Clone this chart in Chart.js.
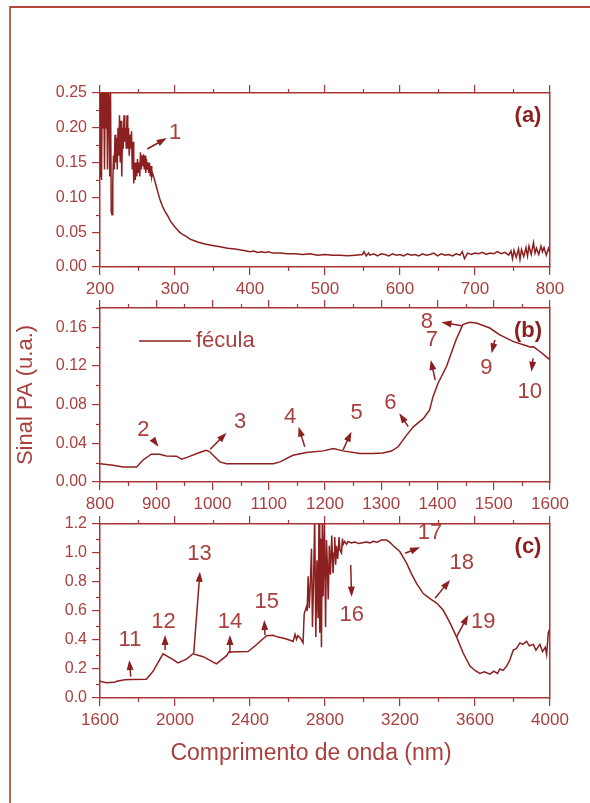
<!DOCTYPE html>
<html>
<head>
<meta charset="utf-8">
<script src="https://cdn.jsdelivr.net/npm/chart.js@4.4.1/dist/chart.umd.min.js"></script>
<style>
  html, body { margin: 0; padding: 0; background: #fff; }
  #page { position: relative; width: 590px; height: 803px; overflow: hidden; background: #fff; }
  #page canvas { position: absolute; left: 0; top: 0; }
  #frame { position: absolute; left: 9px; top: 6px; right: 0; bottom: 0;
           border-left: 2px solid #b86a45; border-top: 2px solid #b5473c; }
</style>
</head>
<body>
<div id="page">
  <div id="frame"></div>
  <canvas id="chartA" width="590" height="803"></canvas>
  <canvas id="chartB" width="590" height="803"></canvas>
  <canvas id="chartC" width="590" height="803"></canvas>
</div>
<script>
// ---- panel (a): 200-800 nm ----
const aWave = [
  200,201,202,203,204,205,206,207,208,209,
  210,211,212,213,214,215,216,217,218,219,
  220,221,222,223,224,225,226,227,228,229,
  230,231,232,233,234,235,236,237,238,239,
  240,241,242,243,244,245,246,247,248,249,
  250,251,252,253,254,255,256,257,258,259,
  260,261,262,263,264,265,266,267,268,269,
  270,272,274,276,278,280,283,286,290,294,
  298,302,306,310,315,320,325,330,340,350,
  360,370,380,390,395,400,405,410,415,420,
  425,430,440,450,460,470,480,490,500,510,
  520,530,540,550,552,555,558,560,565,570,
  575,580,585,590,595,600,605,610,615,620,
  625,630,635,640,645,650,655,660,665,670,
  675,680,683,686,690,695,700,705,710,715,
  720,725,730,735,740,745,748,750,752,755,
  758,760,762,765,768,770,772,775,778,780,
  782,785,788,790,792,795,798,800
];
const aSignal = [
  0.13,0.26,0.125,0.27,0.2,0.26,0.14,0.27,0.2,0.26,
  0.14,0.26,0.24,0.13,0.26,0.08,0.075,0.12,0.16,0.14,
  0.19,0.15,0.185,0.14,0.2,0.16,0.218,0.15,0.21,0.13,
  0.2,0.17,0.218,0.18,0.2,0.17,0.218,0.17,0.2,0.16,
  0.19,0.17,0.195,0.14,0.18,0.12,0.15,0.125,0.15,0.13,
  0.155,0.135,0.15,0.13,0.165,0.14,0.16,0.145,0.162,0.14,
  0.16,0.135,0.155,0.14,0.15,0.135,0.15,0.13,0.145,0.13,
  0.135,0.128,0.12,0.112,0.104,0.097,0.088,0.081,0.074,0.066,
  0.06,0.055,0.05,0.047,0.044,0.04,0.038,0.036,0.033,0.031,
  0.029,0.027,0.026,0.024,0.023,0.022,0.023,0.021,0.022,0.021,
  0.022,0.02,0.02,0.019,0.019,0.018,0.019,0.017,0.018,0.017,
  0.017,0.016,0.017,0.018,0.022,0.016,0.02,0.017,0.019,0.016,
  0.019,0.018,0.016,0.019,0.017,0.018,0.016,0.019,0.017,0.018,
  0.016,0.019,0.017,0.018,0.02,0.016,0.019,0.017,0.018,0.016,
  0.019,0.017,0.022,0.012,0.02,0.018,0.02,0.019,0.021,0.018,
  0.02,0.019,0.022,0.019,0.021,0.017,0.023,0.012,0.024,0.014,
  0.026,0.011,0.025,0.015,0.028,0.016,0.03,0.018,0.035,0.02,
  0.027,0.018,0.03,0.022,0.028,0.017,0.027,0.02
];
const aXTicks = [200, 300, 400, 500, 600, 700, 800];
const aYTicks = [0, 0.05, 0.10, 0.15, 0.20, 0.25];

// ---- panel (b): 800-1600 nm ----
const bWave = [
  800,823,841,865,876,891,906,918,936,945,
  957,977,989,995,1013,1025,1060,1108,1120,1143,
  1167,1197,1215,1232,1262,1286,1303,1318,1330,1345,
  1357,1375,1386,1392,1401,1416,1433,1445,1457,1469,
  1493,1510,1534,1558,1566,1570,1582,1600
];
const bSignal = [
  0.019,0.0173,0.0156,0.0156,0.0225,0.0287,0.0287,0.027,0.0267,0.0236,
  0.026,0.0305,0.0329,0.0312,0.0208,0.019,0.019,0.019,0.0208,0.0277,
  0.0305,0.0322,0.0346,0.0322,0.0294,0.0294,0.0301,0.032,0.0364,0.0485,
  0.0571,0.0658,0.0745,0.0883,0.1022,0.1195,0.1472,0.1628,0.1652,0.1645,
  0.1593,0.1524,0.1455,0.141,0.1395,0.14,0.135,0.1264
];
const bXTicks = [800, 900, 1000, 1100, 1200, 1300, 1400, 1500, 1600];
const bYTicks = [0, 0.04, 0.08, 0.12, 0.16];

// ---- panel (c): 1600-4000 nm ----
const cWave = [
  1600,1634,1678,1690,1732,1760,1847,1883,1936,1990,
  2016,2061,2096,2150,2221,2274,2288,2390,2434,2488,
  2523,2550,2585,2610,2630,2640,2648,2655,2670,2683,
  2689,2701,2705,2710,2716,2722,2728,2733,2739,2745,
  2751,2757,2763,2768,2772,2777,2781,2786,2790,2797,
  2803,2808,2813,2817,2823,2829,2836,2843,2848,2852,
  2857,2861,2868,2875,2880,2888,2893,2897,2905,2915,
  2923,2940,2960,2980,3000,3020,3040,3057,3080,3100,
  3128,3145,3164,3199,3235,3260,3288,3324,3360,3395,
  3431,3466,3502,3537,3573,3600,3626,3650,3680,3700,
  3720,3733,3750,3769,3785,3804,3820,3840,3855,3875,
  3890,3911,3925,3946,3960,3975,3982,3991,4000
];
const cSignal = [
  0.115,0.105,0.108,0.115,0.126,0.128,0.13,0.184,0.305,0.264,
  0.242,0.268,0.305,0.285,0.235,0.29,0.318,0.32,0.367,0.43,
  0.432,0.42,0.41,0.4,0.39,0.44,0.405,0.43,0.41,0.38,
  0.58,0.63,0.6,0.84,0.62,0.8,1.03,0.49,0.8,1.25,
  0.42,0.95,0.55,1.25,0.45,1.1,0.35,1.25,0.7,1.22,
  0.49,1.09,0.9,0.68,1.05,0.85,1.12,0.86,1.0,1.11,
  0.92,1.05,0.96,1.11,1.02,1.0,1.1,1.06,1.08,1.06,
  1.08,1.07,1.075,1.065,1.07,1.075,1.07,1.08,1.075,1.09,
  1.09,1.075,1.05,1.01,0.93,0.86,0.79,0.72,0.685,0.655,
  0.605,0.52,0.42,0.31,0.22,0.19,0.17,0.18,0.165,0.185,
  0.17,0.2,0.19,0.22,0.26,0.33,0.34,0.38,0.37,0.39,
  0.36,0.37,0.33,0.37,0.32,0.35,0.3,0.45,0.48
];
const cXTicks = [1600, 2000, 2400, 2800, 3200, 3600, 4000];
const cYTicks = [0, 0.2, 0.4, 0.6, 0.8, 1.0, 1.2];

// numbered band markers: label position and arrow (tail -> head), in data units
const aMarks = [
  { text: '1', x: 300, y: 0.1925, from: [263, 0.1695], to: [289, 0.1853] }
];
const bMarks = [
  { text: '2', x: 877, y: 0.0538, from: [895, 0.0434], to: [904, 0.0365] },
  { text: '3', x: 1049, y: 0.0624, from: [996, 0.0338], to: [1025, 0.051] },
  { text: '4', x: 1138, y: 0.0676, from: [1164, 0.0365], to: [1153, 0.0572] },
  { text: '5', x: 1256, y: 0.0711, from: [1232, 0.0331], to: [1247, 0.052] },
  { text: '6', x: 1316, y: 0.0814, from: [1348, 0.0572], to: [1332, 0.0711] },
  { text: '7', x: 1390, y: 0.1469, from: [1396, 0.1055], to: [1388, 0.1262] },
  { text: '8', x: 1381, y: 0.1658, from: [1443, 0.1617], to: [1407, 0.1652] },
  { text: '9', x: 1487, y: 0.1176, from: [1502, 0.1469], to: [1496, 0.1331] },
  { text: '10', x: 1564, y: 0.0934, from: [1570, 0.128], to: [1567, 0.1141] }
];
const cMarks = [
  { text: '11', x: 1760, y: 0.40, from: [1764, 0.147], to: [1756, 0.262] },
  { text: '12', x: 1938, y: 0.526, from: [1947, 0.331], to: [1947, 0.434] },
  { text: '13', x: 2130, y: 0.991, from: [2100, 0.31], to: [2133, 0.871] },
  { text: '14', x: 2293, y: 0.526, from: [2293, 0.308], to: [2293, 0.434] },
  { text: '15', x: 2489, y: 0.664, from: [2480, 0.434], to: [2476, 0.538] },
  { text: '16', x: 2942, y: 0.572, from: [2937, 0.917], to: [2942, 0.699] },
  { text: '17', x: 3360, y: 1.136, from: [3227, 0.998], to: [3307, 1.039] },
  { text: '18', x: 3529, y: 0.929, from: [3387, 0.688], to: [3467, 0.814] },
  { text: '19', x: 3644, y: 0.526, from: [3502, 0.423], to: [3564, 0.572] }
];

const LINE_COLOR = '#8c1f1f';
const AXIS_COLOR = '#a63636';
const TEXT_COLOR = '#a8403e';
const FONT = '"Liberation Sans", Arial, sans-serif';

function midpoints(values) {
  const out = [];
  for (let i = 1; i < values.length; i++) out.push((values[i - 1] + values[i]) / 2);
  return out;
}

function drawArrow(ctx, x1, y1, x2, y2) {
  const ang = Math.atan2(y2 - y1, x2 - x1);
  const len = 10, half = 3.5;
  ctx.beginPath();
  ctx.moveTo(x1, y1);
  ctx.lineTo(x2 - Math.cos(ang) * len * 0.6, y2 - Math.sin(ang) * len * 0.6);
  ctx.stroke();
  ctx.beginPath();
  ctx.moveTo(x2, y2);
  ctx.lineTo(x2 - Math.cos(ang) * len - Math.sin(ang) * half, y2 - Math.sin(ang) * len + Math.cos(ang) * half);
  ctx.lineTo(x2 - Math.cos(ang) * len + Math.sin(ang) * half, y2 - Math.sin(ang) * len - Math.cos(ang) * half);
  ctx.closePath();
  ctx.fill();
}

// minor ticks, panel tag, band markers, legend and x title
const decorPlugin = {
  id: 'decor',
  afterDraw(chart, args, opts) {
    const ctx = chart.ctx;
    const xs = chart.scales.x, ys = chart.scales.y;
    const area = chart.chartArea;
    ctx.save();

    ctx.strokeStyle = AXIS_COLOR;
    ctx.lineWidth = 1.2;
    opts.xMinor.forEach(v => {
      const px = Math.round(xs.getPixelForValue(v)) + 0.5;
      ctx.beginPath();
      ctx.moveTo(px, area.bottom); ctx.lineTo(px, area.bottom + 4);
      ctx.moveTo(px, area.top); ctx.lineTo(px, area.top - 4);
      ctx.stroke();
    });
    opts.yMinor.forEach(v => {
      const py = Math.round(ys.getPixelForValue(v)) + 0.5;
      ctx.beginPath();
      ctx.moveTo(area.left - 4, py); ctx.lineTo(area.left, py);
      ctx.stroke();
    });

    ctx.fillStyle = LINE_COLOR;
    ctx.font = 'bold 22px ' + FONT;
    ctx.textAlign = 'center';
    ctx.textBaseline = 'middle';
    ctx.fillText(opts.tag, area.right - 22, area.top + 23);

    ctx.font = '22px ' + FONT;
    opts.marks.forEach(m => {
      ctx.fillStyle = TEXT_COLOR;
      ctx.fillText(m.text, xs.getPixelForValue(m.x), ys.getPixelForValue(m.y));
      ctx.strokeStyle = LINE_COLOR;
      ctx.fillStyle = LINE_COLOR;
      ctx.lineWidth = 1.5;
      drawArrow(ctx,
        xs.getPixelForValue(m.from[0]), ys.getPixelForValue(m.from[1]),
        xs.getPixelForValue(m.to[0]), ys.getPixelForValue(m.to[1]));
    });

    if (opts.legend) {
      const lg = opts.legend;
      ctx.strokeStyle = LINE_COLOR;
      ctx.lineWidth = 1.5;
      ctx.beginPath();
      ctx.moveTo(lg.x, lg.y); ctx.lineTo(lg.x + 52, lg.y);
      ctx.stroke();
      ctx.fillStyle = TEXT_COLOR;
      ctx.textAlign = 'left';
      ctx.fillText(chart.data.datasets[0].label, lg.x + 57, lg.y);
    }

    if (opts.xTitle) {
      ctx.fillStyle = TEXT_COLOR;
      ctx.font = '23px ' + FONT;
      ctx.textAlign = 'center';
      ctx.textBaseline = 'alphabetic';
      ctx.fillText(opts.xTitle.text, opts.xTitle.x, opts.xTitle.y);
    }
    ctx.restore();
  }
};

function makePanel(canvasId, p) {
  const points = p.wave.map((w, i) => ({ x: w, y: p.signal[i] }));
  const setTicks = values => scale => { scale.ticks = values.map(v => ({ value: v })); };
  const grid = { drawOnChartArea: false, drawTicks: true, tickLength: 8, color: AXIS_COLOR, lineWidth: 1.2 };
  const border = { display: true, color: AXIS_COLOR, width: 1.5 };
  const xMin = p.xTicks[0], xMax = p.xTicks[p.xTicks.length - 1];

  return new Chart(document.getElementById(canvasId), {
    type: 'line',
    data: {
      datasets: [{
        label: p.label,
        data: points,
        borderColor: LINE_COLOR,
        borderWidth: 1.5,
        pointRadius: 0,
        fill: false,
        tension: 0,
        xAxisID: 'x',
        yAxisID: 'y'
      }]
    },
    options: {
      responsive: false,
      animation: false,
      devicePixelRatio: 1,
      layout: { padding: p.padding },
      plugins: {
        legend: { display: false },
        tooltip: { enabled: false },
        decor: {
          xMinor: midpoints(p.xTicks),
          yMinor: midpoints(p.yTicks).concat(p.yExtraMinor || []),
          tag: p.tag,
          marks: p.marks,
          legend: p.legend || null,
          xTitle: p.xTitle || null
        }
      },
      scales: {
        x: {
          type: 'linear', position: 'bottom', min: xMin, max: xMax,
          afterBuildTicks: setTicks(p.xTicks),
          afterFit: s => { s.height = 30; },
          ticks: { autoSkip: false, maxRotation: 0, padding: 4, color: TEXT_COLOR,
                   font: { family: FONT, size: 17 }, callback: v => String(v) },
          grid: grid, border: border
        },
        xTop: {
          type: 'linear', position: 'top', min: xMin, max: xMax,
          afterBuildTicks: setTicks(p.xTicks),
          afterFit: s => { s.height = 8; },
          ticks: { display: false },
          grid: grid, border: border
        },
        y: {
          type: 'linear', position: 'left', min: p.yMin, max: p.yMax,
          afterBuildTicks: setTicks(p.yTicks),
          afterFit: s => { s.width = p.yWidth; },
          ticks: { autoSkip: false, padding: 5, color: TEXT_COLOR,
                   font: { family: FONT, size: 16 }, callback: v => v.toFixed(p.yDigits) },
          title: p.yTitle ? { display: true, text: p.yTitle, color: TEXT_COLOR,
                              font: { family: FONT, size: 22 }, padding: 0 } : { display: false },
          grid: grid, border: border
        },
        yRight: {
          type: 'linear', position: 'right', min: p.yMin, max: p.yMax,
          afterFit: s => { s.width = 0; },
          ticks: { display: false },
          grid: { display: false },
          border: border
        }
      }
    },
    plugins: [decorPlugin]
  });
}

makePanel('chartA', {
  wave: aWave, signal: aSignal, label: 'fécula',
  xTicks: aXTicks, yTicks: aYTicks, yMin: 0, yMax: 0.25, yDigits: 2, yWidth: 60,
  padding: { top: 85, bottom: 506, left: 40, right: 40 },
  tag: '(a)', marks: aMarks
});

makePanel('chartB', {
  wave: bWave, signal: bSignal, label: 'fécula',
  xTicks: bXTicks, yTicks: bYTicks, yExtraMinor: [0.18], yMin: 0, yMax: 0.18, yDigits: 2, yWidth: 87,
  padding: { top: 300, bottom: 291, left: 13, right: 40 },
  tag: '(b)', marks: bMarks,
  legend: { x: 139, y: 341 },
  yTitle: 'Sinal PA (u.a.)'
});

makePanel('chartC', {
  wave: cWave, signal: cSignal, label: 'fécula',
  xTicks: cXTicks, yTicks: cYTicks, yMin: 0, yMax: 1.2, yDigits: 1, yWidth: 60,
  padding: { top: 516, bottom: 75, left: 40, right: 40 },
  tag: '(c)', marks: cMarks,
  xTitle: { text: 'Comprimento de onda (nm)', x: 311, y: 760 }
});
</script>
</body>
</html>
